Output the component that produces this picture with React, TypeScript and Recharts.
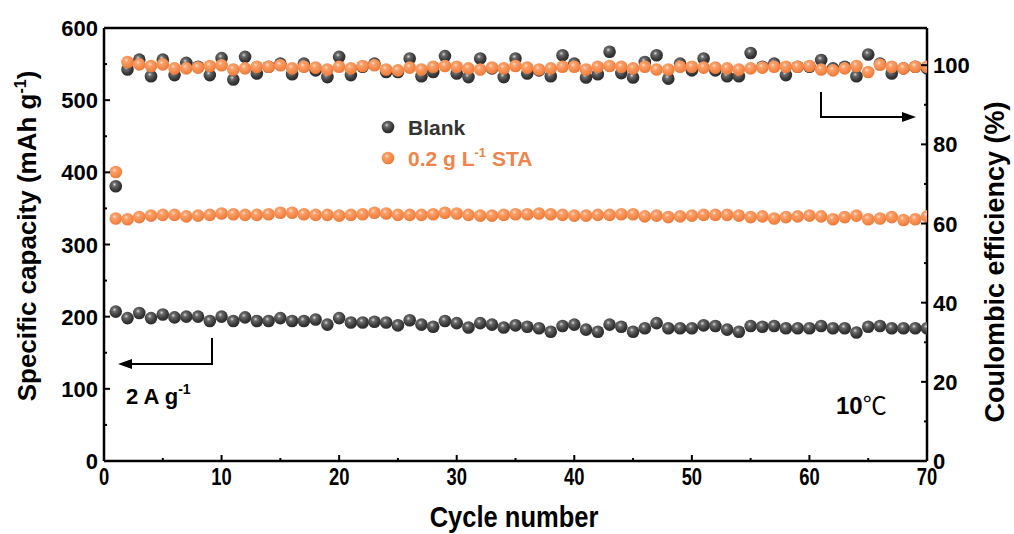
import React from 'react';
import {
  ComposedChart,
  Scatter,
  XAxis,
  YAxis,
  ReferenceLine,
} from 'recharts';

// specific capacity (mAh g-1), cycles 1..70
const blankCap = [
  207, 198, 205, 198, 203, 199, 200, 200, 194, 200,
  194, 199, 194, 194, 198, 194, 194, 196, 189, 198,
  192, 192, 193, 192, 188, 195, 189, 186, 194, 191,
  185, 191, 189, 185, 188, 186, 184, 179, 187, 189,
  182, 179, 189, 186, 179, 184, 191, 184, 184, 184,
  188, 187, 182, 179, 187, 186, 187, 184, 184, 184,
  187, 184, 184, 178, 186, 187, 184, 184, 184, 184,
];
const staCap = [
  336, 335, 338, 340, 341, 341, 339, 340, 341, 343,
  342, 341, 341, 342, 344, 344, 342, 341, 341, 340,
  341, 342, 344, 343, 341, 341, 341, 342, 344, 343,
  341, 340, 340, 341, 342, 342, 343, 342, 341, 340,
  340, 341, 341, 342, 342, 339, 340, 338, 339, 340,
  341, 341, 341, 340, 338, 339, 336, 338, 339, 340,
  339, 335, 338, 340, 335, 336, 338, 334, 335, 339,
];
// coulombic efficiency (%)
const blankCE = [
  69.4, 98.9, 101.4, 97.2, 101.4, 97.5, 100.6, 99.6, 97.5, 101.8,
  96.4, 102.1, 97.9, 99.6, 100.4, 97.7, 100.4, 98.7, 97.0, 102.1,
  97.5, 99.6, 100.4, 98.3, 98.3, 101.7, 97.2, 98.3, 102.3, 97.9,
  97.0, 101.7, 99.2, 97.0, 101.7, 97.9, 98.7, 97.2, 102.5, 100.4,
  96.9, 97.7, 103.4, 98.0, 96.9, 100.8, 102.5, 96.6, 100.4, 98.7,
  101.7, 98.7, 97.2, 97.2, 103.1, 99.6, 100.4, 97.5, 99.6, 99.6,
  101.3, 99.2, 99.6, 97.2, 102.7, 100.4, 97.9, 99.2, 99.6, 99.2,
];
const staCE = [
  73.0, 100.8, 100.2, 99.8, 100.2, 99.2, 99.2, 99.4, 99.8, 100.0,
  98.9, 99.2, 99.6, 99.6, 100.0, 99.2, 99.6, 99.4, 98.9, 99.6,
  99.2, 99.8, 100.0, 98.9, 98.7, 99.4, 98.9, 99.6, 99.8, 99.6,
  99.2, 98.9, 99.4, 99.2, 99.8, 99.4, 98.9, 99.2, 99.6, 99.6,
  98.9, 99.6, 99.8, 99.6, 99.2, 99.6, 98.9, 98.9, 99.6, 99.6,
  99.4, 99.4, 99.2, 98.9, 99.2, 99.4, 99.6, 99.6, 99.6, 99.8,
  98.9, 98.7, 99.2, 99.8, 98.3, 100.1, 99.6, 99.2, 99.6, 99.6,
];

const xTicks = [0, 5, 10, 15, 20, 25, 30, 35, 40, 45, 50, 55, 60, 65, 70];
const capTicks = [0, 50, 100, 150, 200, 250, 300, 350, 400, 450, 500, 550, 600];
const ceTicks = [0, 10, 20, 30, 40, 50, 60, 70, 80, 90, 100];

const data = blankCap.map((v, i) => ({
  cycle: i + 1,
  blankCap: v,
  staCap: staCap[i],
  blankCE: blankCE[i],
  staCE: staCE[i],
}));

const FONT = "'Liberation Sans', Arial, sans-serif";

const XTick = (props: any) => {
  const { x, y, payload } = props;
  const major = payload.value % 10 === 0;
  return (
    <g>
      <line x1={x} x2={x} y1={y} y2={y - (major ? 6 : 3)} stroke="#000" strokeWidth={2} />
      {major && (
        <text x={x} y={y + 24} textAnchor="middle" fontFamily={FONT} fontWeight="bold" fontSize={23} fill="#000" transform={`translate(${x},0) scale(0.8,1) translate(${-x},0)`}>
          {payload.value}
        </text>
      )}
    </g>
  );
};

const LeftTick = (props: any) => {
  const { x, y, payload } = props;
  const major = payload.value % 100 === 0;
  return (
    <g>
      <line x1={x} x2={x + (major ? 6 : 3)} y1={y} y2={y} stroke="#000" strokeWidth={2} />
      {major && (
        <text x={x - 6} y={y + 8} textAnchor="end" fontFamily={FONT} fontWeight="bold" fontSize={22} fill="#000">
          {payload.value}
        </text>
      )}
    </g>
  );
};

const RightTick = (props: any) => {
  const { x, y, payload } = props;
  const major = payload.value % 20 === 0;
  return (
    <g>
      <line x1={x} x2={x - (major ? 6 : 3)} y1={y} y2={y} stroke="#000" strokeWidth={2} />
      {major && (
        <text x={x + 6} y={y + 8} textAnchor="start" fontFamily={FONT} fontWeight="bold" fontSize={22} fill="#000">
          {payload.value}
        </text>
      )}
    </g>
  );
};

const ball = (grad: string) => (props: any) => (
  <circle cx={props.cx} cy={props.cy} r={6.3} fill={`url(#${grad})`} />
);

export default function App() {
  return (
    <div style={{ position: 'absolute', left: 0, top: 0, width: 1014, height: 534, background: '#fff' }}>
      <ComposedChart
        width={1014}
        height={534}
        data={data}
        margin={{ top: 28, right: 0, bottom: 0, left: 0 }}
      >
        <defs>
          <radialGradient id="gBlack" cx="40%" cy="35%" r="65%">
            <stop offset="0%" stopColor="#d8d8d8" />
            <stop offset="25%" stopColor="#6a6a6a" />
            <stop offset="70%" stopColor="#3a3a3a" />
            <stop offset="100%" stopColor="#2a2a2a" />
          </radialGradient>
          <radialGradient id="gOrange" cx="40%" cy="35%" r="65%">
            <stop offset="0%" stopColor="#ffe0cc" />
            <stop offset="25%" stopColor="#fba06a" />
            <stop offset="70%" stopColor="#f5894a" />
            <stop offset="100%" stopColor="#ec7a3a" />
          </radialGradient>
        </defs>
        <XAxis
          dataKey="cycle"
          type="number"
          domain={[0, 70]}
          ticks={xTicks}
          interval={0}
          tick={<XTick />}
          tickLine={false}
          tickSize={0}
          tickMargin={0}
          height={73}
          axisLine={{ stroke: '#000', strokeWidth: 2.5 }}
          allowDataOverflow
        />
        <YAxis
          yAxisId="left"
          domain={[0, 600]}
          ticks={capTicks}
          interval={0}
          tick={<LeftTick />}
          tickLine={false}
          tickSize={0}
          tickMargin={0}
          width={104}
          axisLine={{ stroke: '#000', strokeWidth: 2.5 }}
          allowDataOverflow
        />
        <YAxis
          yAxisId="right"
          orientation="right"
          domain={[0, 109.4]}
          ticks={ceTicks}
          interval={0}
          tick={<RightTick />}
          tickLine={false}
          tickSize={0}
          tickMargin={0}
          width={87}
          axisLine={{ stroke: '#000', strokeWidth: 2.5 }}
          allowDataOverflow
        />
        <ReferenceLine yAxisId="left" y={600} stroke="#000" strokeWidth={2.5} />
        <Scatter yAxisId="left" dataKey="blankCap" shape={ball('gBlack')} isAnimationActive={false} />
        <Scatter yAxisId="right" dataKey="blankCE" shape={ball('gBlack')} isAnimationActive={false} />
        <Scatter yAxisId="left" dataKey="staCap" shape={ball('gOrange')} isAnimationActive={false} />
        <Scatter yAxisId="right" dataKey="staCE" shape={ball('gOrange')} isAnimationActive={false} />
      </ComposedChart>

      <svg
        width={1014}
        height={534}
        style={{ position: 'absolute', left: 0, top: 0, pointerEvents: 'none' }}
        fontFamily={FONT}
      >
        <defs>
          <radialGradient id="gBlack2" cx="40%" cy="35%" r="65%">
            <stop offset="0%" stopColor="#d8d8d8" />
            <stop offset="25%" stopColor="#6a6a6a" />
            <stop offset="70%" stopColor="#3a3a3a" />
            <stop offset="100%" stopColor="#2a2a2a" />
          </radialGradient>
          <radialGradient id="gOrange2" cx="40%" cy="35%" r="65%">
            <stop offset="0%" stopColor="#ffe0cc" />
            <stop offset="25%" stopColor="#fba06a" />
            <stop offset="70%" stopColor="#f5894a" />
            <stop offset="100%" stopColor="#ec7a3a" />
          </radialGradient>
        </defs>

        {/* axis titles */}
        <text
          transform="translate(36,236) rotate(-90)"
          textAnchor="middle"
          fontWeight="bold"
          fontSize={26}
          fill="#000"
        >
          Specific capacity (mAh g
          <tspan dy={-10} fontSize={16}>-1</tspan>
          <tspan dy={10}>)</tspan>
        </text>
        <text
          transform="translate(1004,262) rotate(-90)"
          textAnchor="middle"
          fontWeight="bold"
          fontSize={27}
          fill="#000"
        >
          Coulombic efficiency (%)
        </text>
        <text x={514} y={527} textAnchor="middle" fontWeight="bold" fontSize={29} fill="#000" transform="translate(514,0) scale(0.88,1) translate(-514,0)">
          Cycle number
        </text>

        {/* legend */}
        <circle cx={388} cy={127} r={6.3} fill="url(#gBlack2)" />
        <circle cx={388} cy={158} r={6.3} fill="url(#gOrange2)" />
        <text x={408} y={135} fontWeight="bold" fontSize={21} fill="#333">Blank</text>
        <text x={408} y={166} fontWeight="bold" fontSize={21} fill="#f0844a">
          0.2 g L<tspan dy={-9} fontSize={13}>-1</tspan>
          <tspan dy={9}> STA</tspan>
        </text>

        {/* arrows */}
        <polyline points="212,338 212,364 128,364" fill="none" stroke="#000" strokeWidth={2} />
        <polygon points="118,364 132,359 132,369" fill="#000" />
        <polyline points="821,92 821,117 905,117" fill="none" stroke="#000" strokeWidth={2} />
        <polygon points="916,117 902,112 902,122" fill="#000" />

        {/* annotations */}
        <text x={126} y={404} fontWeight="bold" fontSize={22} fill="#000">
          2 A g<tspan dy={-10} fontSize={14}>-1</tspan>
        </text>
        <text x={836} y={414} fontWeight="bold" fontSize={24} fill="#000">
          10
          <tspan fontWeight="normal" fontFamily="'Noto Sans CJK SC', serif">℃</tspan>
        </text>
      </svg>
    </div>
  );
}
